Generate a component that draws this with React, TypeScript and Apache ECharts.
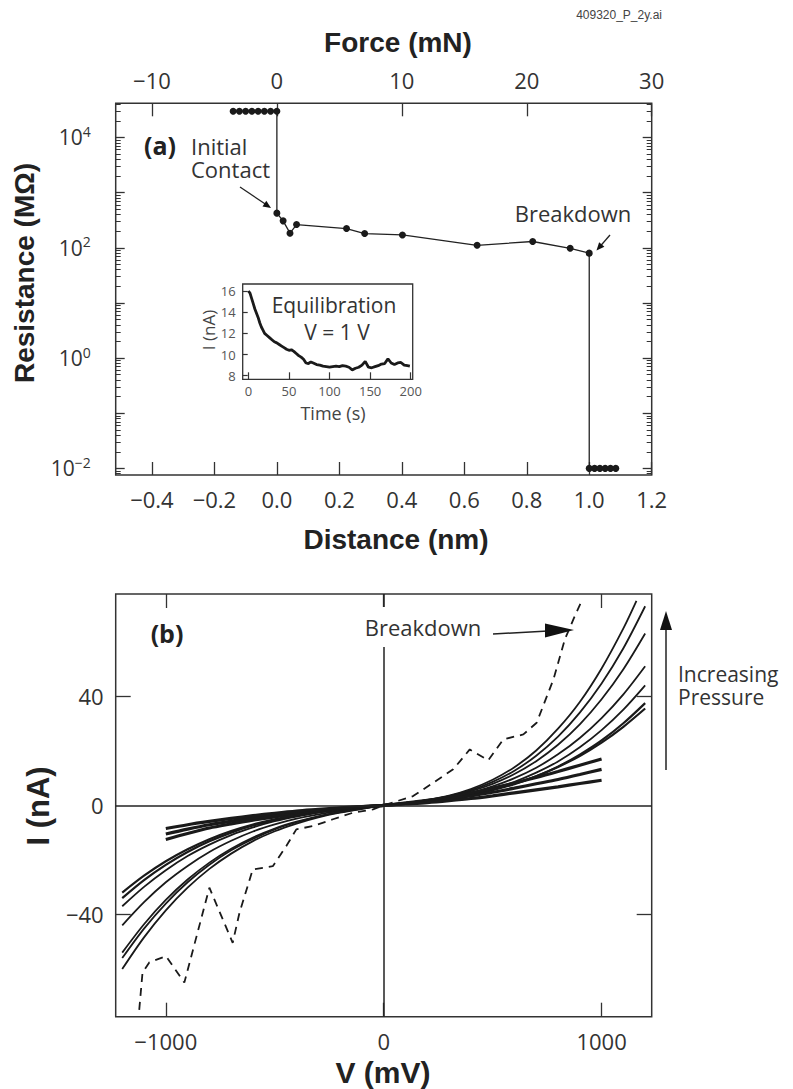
import React, { useEffect, useRef } from "react";
import * as echarts from "echarts";

// ---------- Panel (a): resistance vs distance ----------
const distanceNm = [
  -0.14, -0.12, -0.1, -0.08, -0.06, -0.04, -0.02, 0.0,
  0.0, 0.02, 0.042, 0.063, 0.223, 0.281, 0.402, 0.641, 0.819, 0.939, 1.0,
  1.0, 1.017, 1.034, 1.051, 1.068, 1.085,
];
const resistanceMOhm = [
  30000, 30000, 30000, 30000, 30000, 30000, 30000, 30000,
  425, 308, 184, 264, 223, 181, 171, 111, 130, 98, 80,
  0.01, 0.01, 0.01, 0.01, 0.01, 0.01,
];
const distanceTicks = [-0.4, -0.2, 0, 0.2, 0.4, 0.6, 0.8, 1.0, 1.2];
const forceTicks = [-10, 0, 10, 20, 30];
const decadeTicks = [-2, -1, 0, 1, 2, 3, 4];
const decadeLabels = [-2, 0, 2, 4];

// ---------- Inset: equilibration ----------
const timeS = [
  0, 2, 4, 6, 8, 10, 12, 14, 16, 18, 20, 23, 26, 29, 32, 35, 38, 41, 44, 47, 50,
  53, 56, 59, 62, 65, 68, 71, 74, 77, 80, 84, 88, 92, 96, 100, 104, 108, 112, 116,
  120, 124, 128, 132, 136, 140, 144, 148, 152, 156, 160, 164, 168, 172, 176, 180,
  184, 188, 192, 196, 199,
];
const currentNA = [
  16.0, 15.8, 15.3, 14.8, 14.3, 13.9, 13.5, 13.0, 12.6, 12.3, 12.0,
  11.8, 11.6, 11.4, 11.2, 11.1, 10.95, 10.8, 10.65, 10.5, 10.4,
  10.45, 10.3, 10.1, 9.9, 9.75, 9.55, 9.2, 9.15, 9.3, 9.2,
  9.05, 9.0, 8.9, 8.85, 8.8,
  8.85, 8.9, 8.85, 8.95, 8.9,
  8.8, 8.55, 8.7, 8.8, 9.0,
  9.35, 8.8, 8.75, 8.85, 8.95,
  9.1, 9.15, 9.6, 9.2, 9.05,
  9.2, 9.25, 9.0, 8.95, 8.9,
];
const insetTimeTicks = [0, 50, 100, 150, 200];
const insetCurrentTicks = [8, 10, 12, 14, 16];

// ---------- Panel (b): I-V curves ----------
const vLong = [
  -1200, -1100, -1000, -900, -800, -700, -600, -500, -400, -300, -200, -100, 0,
  100, 200, 300, 400, 500, 600, 700, 800, 900, 1000, 1100, 1200,
];
const vTop = [
  -1200, -1100, -1000, -900, -800, -700, -600, -500, -400, -300, -200, -100, 0,
  100, 200, 300, 400, 500, 600, 700, 800, 900, 1000, 1100, 1160,
];
const vShort = [
  -1000, -900, -800, -700, -600, -500, -400, -300, -200, -100, 0,
  100, 200, 300, 400, 500, 600, 700, 800, 900, 1000,
];
const iCurve1 = [-60, -48.4, -38.5, -30.2, -23.3, -17.7, -13.1, -9.5, -6.7, -4.4, -2.7, -1.3, 0, 0.87, 2.0, 3.6, 6.0, 9.4, 14.0, 20.1, 28.1, 37.9, 50.2, 64.9, 75];
const iCurve2 = [-56, -45.2, -36, -28.2, -21.8, -16.5, -12.3, -8.8, -6.2, -4.1, -2.5, -1.2, 0, 0.84, 1.9, 3.4, 5.55, 8.6, 12.7, 18.2, 25.2, 34, 44.7, 57.6, 73];
const iCurve3 = [-54, -43.6, -34.7, -27.2, -21, -15.9, -11.8, -8.5, -6.0, -4.0, -2.4, -1.1, 0, 0.83, 1.85, 3.2, 5.2, 7.9, 11.5, 16.2, 22.2, 29.7, 38.9, 49.9, 63];
const iCurve4 = [-44, -35.5, -28.2, -22.2, -17.1, -13.0, -9.6, -7.0, -4.9, -3.3, -2.0, -0.9, 0, 0.82, 1.8, 3.05, 4.7, 7.0, 10.0, 13.8, 18.7, 24.7, 32, 40.7, 51];
const iCurve5 = [-37, -29.9, -23.8, -18.6, -14.4, -10.9, -8.1, -5.8, -4.1, -2.7, -1.7, -0.8, 0, 0.72, 1.56, 2.66, 4.1, 6.1, 8.65, 12.0, 16.1, 21.3, 27.6, 35.1, 44];
const iCurve6 = [-34, -27.4, -21.8, -17.1, -13.2, -10.0, -7.4, -5.4, -3.8, -2.5, -1.5, -0.7, 0, 0.72, 1.53, 2.55, 3.9, 5.6, 7.8, 10.7, 14.2, 18.6, 23.8, 30.1, 37.5];
const iCurve7 = [-32, -25.8, -20.5, -16.1, -12.4, -9.4, -7.0, -5.1, -3.6, -2.4, -1.4, -0.7, 0, 0.82, 1.72, 2.8, 4.16, 5.9, 8.0, 10.7, 14.1, 18.1, 23, 28.8, 35.5];
const iShort1 = [-12.5, -10.3, -8.3, -6.8, -5.4, -4.2, -3.1, -2.1, -1.3, -0.6, 0, 0.85, 1.8, 3.0, 4.5, 6.3, 8.2, 10.2, 12.4, 14.7, 17.0];
const iShort2 = [-10.5, -8.7, -7.1, -5.8, -4.6, -3.5, -2.6, -1.8, -1.1, -0.5, 0, 0.7, 1.4, 2.3, 3.5, 4.8, 6.3, 7.9, 9.5, 11.3, 13.2];
const iShort3 = [-8.5, -7.1, -5.9, -4.8, -3.8, -2.9, -2.1, -1.5, -0.9, -0.45, 0, 0.5, 1.0, 1.7, 2.5, 3.5, 4.6, 5.7, 6.8, 8.0, 9.2];
const breakdownV = [-1122, -1107, -1076, -999, -915, -800, -693, -662, -601, -509, -447, -401, -325, -233, -141, -49, 0, 135, 227, 319, 395, 480, 549, 641, 702, 779, 832, 871, 909];
const breakdownI = [-75, -61.4, -57.6, -55.3, -65, -30.2, -50.4, -39.4, -23.5, -22.3, -14.9, -8.8, -7.6, -5.1, -2.7, -1.5, 0, 3.4, 8.3, 13.2, 20.5, 16.5, 24.2, 26, 30.3, 46.2, 61, 68.3, 75];
const vTicks = [-1000, 0, 1000];
const iTicks = [-40, 0, 40];

const LABEL_FONT = "'Open Sans', 'DejaVu Sans', sans-serif";
const TITLE_FONT = "'Liberation Sans', Arial, sans-serif";
const INK = "#1a1a1a";
const AXIS = "#333";
const TEXT = "#333";

const minus = (v: number, digits?: number) => {
  const s = digits !== undefined ? Math.abs(v).toFixed(digits) : String(Math.abs(v));
  return (v < 0 ? "\u2212" : "") + s;
};

const zip = (xs: number[], ys: number[]) => xs.map((x, i) => [x, ys[i]]);

function buildOption() {
  const logMin = -2.12;
  const logMax = 4.62;
  const minorLog: number[] = [];
  for (let n = -3; n <= 4; n++) {
    for (let m = 2; m <= 9; m++) {
      const v = n + Math.log10(m);
      if (v > logMin && v < logMax) minorLog.push(v);
    }
  }

  const tickStyle = { color: AXIS, width: 1.3 };
  const noLine = { show: false, onZero: false };
  const labelBase = { fontFamily: LABEL_FONT, color: TEXT };

  const xAxes: any[] = [
    {
      type: "value", gridIndex: 0, position: "bottom", min: -0.516, max: 1.2,
      axisLine: noLine, splitLine: { show: false },
      axisTick: { show: true, inside: true, length: 13, customValues: distanceTicks, lineStyle: tickStyle },
      axisLabel: { ...labelBase, fontSize: 22, margin: 13, customValues: distanceTicks, formatter: (v: number) => minus(v, 1) },
    },
    {
      type: "value", gridIndex: 0, position: "top", min: -12.9, max: 30,
      axisLine: noLine, splitLine: { show: false },
      axisTick: { show: true, inside: true, length: 13, customValues: forceTicks, lineStyle: tickStyle },
      axisLabel: { ...labelBase, fontSize: 22, margin: 12, customValues: forceTicks, formatter: (v: number) => minus(v) },
    },
    {
      type: "value", gridIndex: 1, position: "bottom", min: -1230, max: 1230,
      axisLine: noLine, splitLine: { show: false },
      axisTick: { show: true, inside: true, length: 14, customValues: vTicks, lineStyle: tickStyle },
      axisLabel: { ...labelBase, fontSize: 22, margin: 13, customValues: vTicks, formatter: (v: number) => minus(v) },
    },
    {
      type: "value", gridIndex: 1, position: "top", min: -1230, max: 1230,
      axisLine: noLine, splitLine: { show: false },
      axisTick: { show: true, inside: true, length: 14, customValues: vTicks, lineStyle: tickStyle },
      axisLabel: { show: false },
    },
    {
      type: "value", gridIndex: 2, position: "bottom", min: -7, max: 202.5,
      axisLine: noLine, splitLine: { show: false },
      axisTick: { show: true, inside: true, length: 7, customValues: insetTimeTicks, lineStyle: { color: AXIS, width: 1.2 } },
      axisLabel: { ...labelBase, color: "#555", fontSize: 13, margin: 5, customValues: insetTimeTicks },
    },
  ];

  const yAxes: any[] = [
    {
      type: "value", gridIndex: 0, position: "left", min: logMin, max: logMax,
      axisLine: noLine, splitLine: { show: false },
      axisTick: { show: true, inside: true, length: 9, customValues: decadeTicks, lineStyle: tickStyle },
      axisLabel: {
        ...labelBase, margin: 25, customValues: decadeLabels,
        formatter: (v: number) => `{b|10}{s|${minus(v)}}`,
        rich: {
          b: { fontFamily: LABEL_FONT, fontSize: 21, color: TEXT, lineHeight: 26 },
          s: { fontFamily: LABEL_FONT, fontSize: 14, color: TEXT, lineHeight: 14, verticalAlign: "top" },
        },
      },
    },
    {
      type: "value", gridIndex: 0, position: "left", min: logMin, max: logMax,
      axisLine: noLine, splitLine: { show: false },
      axisTick: { show: true, inside: true, length: 5, customValues: minorLog, lineStyle: { color: AXIS, width: 1 } },
      axisLabel: { show: false },
    },
    {
      type: "value", gridIndex: 0, position: "right", min: logMin, max: logMax,
      axisLine: noLine, splitLine: { show: false },
      axisTick: { show: true, inside: true, length: 9, customValues: decadeTicks, lineStyle: tickStyle },
      axisLabel: { show: false },
    },
    {
      type: "value", gridIndex: 0, position: "right", min: logMin, max: logMax,
      axisLine: noLine, splitLine: { show: false },
      axisTick: { show: true, inside: true, length: 5, customValues: minorLog, lineStyle: { color: AXIS, width: 1 } },
      axisLabel: { show: false },
    },
    {
      type: "value", gridIndex: 1, position: "left", min: -77.5, max: 77.5,
      axisLine: noLine, splitLine: { show: false },
      axisTick: { show: true, inside: true, length: 15, customValues: [-40, 40], lineStyle: tickStyle },
      axisLabel: { ...labelBase, fontSize: 22, margin: 12, customValues: iTicks, formatter: (v: number) => minus(v) },
    },
    {
      type: "value", gridIndex: 1, position: "right", min: -77.5, max: 77.5,
      axisLine: noLine, splitLine: { show: false },
      axisTick: { show: true, inside: true, length: 15, customValues: [-40, 40], lineStyle: tickStyle },
      axisLabel: { show: false },
    },
    {
      type: "value", gridIndex: 2, position: "left", min: 7.66, max: 16.66,
      axisLine: noLine, splitLine: { show: false },
      axisTick: { show: true, inside: true, length: 5, customValues: insetCurrentTicks, lineStyle: { color: AXIS, width: 1.2 } },
      axisLabel: { ...labelBase, color: "#555", fontSize: 13, margin: 7, customValues: insetCurrentTicks },
    },
  ];

  const ivLine = (name: string, xs: number[], ys: number[], width: number, extra: any = {}) => ({
    type: "line", name, xAxisIndex: 2, yAxisIndex: 4, data: zip(xs, ys),
    smooth: 0.3, showSymbol: false, symbol: "none", z: 3,
    lineStyle: { color: INK, width },
    ...extra,
  });

  const series: any[] = [
    {
      type: "line", name: "Resistance", xAxisIndex: 0, yAxisIndex: 0,
      data: distanceNm.map((d, i) => [d, Math.log10(resistanceMOhm[i])]),
      symbol: "circle", symbolSize: 7, showSymbol: true, z: 3,
      itemStyle: { color: INK },
      lineStyle: { color: "#222", width: 1.3 },
    },
    {
      type: "line", name: "Equilibration", xAxisIndex: 4, yAxisIndex: 6,
      data: zip(timeS, currentNA), showSymbol: false, symbol: "none", z: 3,
      lineStyle: { color: INK, width: 2.8 },
    },
    ivLine("c1", vTop, iCurve1, 1.8, {
      markLine: {
        silent: true, symbol: ["none", "none"], label: { show: false },
        lineStyle: { type: "solid", color: "#222", width: 1.5 },
        data: [{ xAxis: 0 }, { yAxis: 0 }],
      },
    }),
    ivLine("c2", vLong, iCurve2, 1.8),
    ivLine("c3", vLong, iCurve3, 1.8),
    ivLine("c4", vLong, iCurve4, 1.8),
    ivLine("c5", vLong, iCurve5, 1.8),
    ivLine("c6", vLong, iCurve6, 2.2),
    ivLine("c7", vLong, iCurve7, 2.2),
    ivLine("s1", vShort, iShort1, 3.2),
    ivLine("s2", vShort, iShort2, 3.2),
    ivLine("s3", vShort, iShort3, 3.2),
    {
      type: "line", name: "Breakdown", xAxisIndex: 2, yAxisIndex: 4,
      data: zip(breakdownV, breakdownI), showSymbol: false, symbol: "none", z: 3,
      lineStyle: { color: INK, width: 1.8, type: [8, 6] },
    },
  ];

  const txt = (text: string, x: number, y: number, opts: any = {}) => ({
    type: "text", x, y, z: 100, rotation: opts.rotation || 0,
    style: {
      text,
      fill: opts.fill || TEXT,
      fontSize: opts.fontSize || 20,
      fontWeight: opts.fontWeight || "normal",
      fontFamily: opts.fontFamily || LABEL_FONT,
      align: opts.align || "center",
      verticalAlign: "middle",
      lineHeight: opts.lineHeight,
      backgroundColor: opts.backgroundColor,
      padding: opts.padding,
    },
  });
  const seg = (x1: number, y1: number, x2: number, y2: number, w = 1.3) => ({
    type: "line", z: 100, shape: { x1, y1, x2, y2 }, style: { stroke: "#222", lineWidth: w },
  });
  const head = (pts: number[][]) => ({
    type: "polygon", z: 100, shape: { points: pts }, style: { fill: "#111" },
  });
  const title = { fontWeight: "bold", fontFamily: TITLE_FONT, fill: "#222" };

  const graphic: any[] = [
    txt("409320_P_2y.ai", 662, 15, { fontSize: 12, align: "right", fontFamily: TITLE_FONT, fill: "#444" }),
    txt("Force (mN)", 398, 42, { ...title, fontSize: 28 }),
    txt("Distance (nm)", 396, 539, { ...title, fontSize: 28 }),
    txt("Resistance (M\u03A9)", 24, 273, { ...title, fontSize: 28, rotation: Math.PI / 2 }),
    txt("(a)", 160, 145, { fontSize: 25, fontWeight: "bold", fill: "#222" }),
    txt("Initial", 191, 146, { fontSize: 22, align: "left" }),
    txt("Contact", 191, 169, { fontSize: 22, align: "left" }),
    seg(240, 187, 266, 204.5),
    head([[271, 208], [262.5, 206.5], [266.3, 200.7]]),
    txt("Breakdown", 573, 213, { fontSize: 22 }),
    seg(610, 235, 600, 246.5),
    head([[596.5, 250.5], [604.4, 246.8], [599.1, 242.2]]),
    // inset texts
    txt("Equilibration", 334, 305, { fontSize: 21 }),
    txt("V = 1 V", 337, 332, { fontSize: 21 }),
    txt("I (nA)", 208, 330, { fontSize: 17, rotation: Math.PI / 2, fill: "#444" }),
    txt("Time (s)", 333, 413, { fontSize: 18, fill: "#444" }),
    // panel b texts
    txt("(b)", 167, 633, { fontSize: 25, fontWeight: "bold", fill: "#222" }),
    txt("Breakdown", 423, 627, { fontSize: 22, backgroundColor: "#fff", padding: [6, 4, 12, 4] }),
    seg(493, 634, 548, 631, 1.5),
    head([[574, 630], [545, 623.5], [545, 637.5]]),
    txt("Increasing", 678, 674, { fontSize: 21, align: "left" }),
    txt("Pressure", 678, 697, { fontSize: 21, align: "left" }),
    seg(666, 770, 666, 626, 1.5),
    head([[666, 611], [660, 630], [672, 630]]),
    txt("I (nA)", 38, 806, { ...title, fontSize: 31, rotation: Math.PI / 2 }),
    txt("V (mV)", 383, 1072, { ...title, fontSize: 30 }),
  ];

  const gridStyle = { show: true, borderColor: AXIS, borderWidth: 1.5, backgroundColor: "transparent", containLabel: false };
  return {
    animation: false,
    backgroundColor: "#fff",
    grid: [
      { ...gridStyle, left: 115.7, top: 103.3, width: 536, height: 371.7 },
      { ...gridStyle, left: 115.7, top: 594, width: 536, height: 422.7 },
      { ...gridStyle, left: 242.7, top: 284, width: 170, height: 95.3, borderWidth: 1.3, backgroundColor: "#fff" },
    ],
    xAxis: xAxes,
    yAxis: yAxes,
    series,
    graphic,
  };
}

export default function App() {
  const ref = useRef<HTMLDivElement>(null);
  useEffect(() => {
    if (!ref.current) return;
    const chart = echarts.init(ref.current, undefined, { renderer: "svg" });
    chart.setOption(buildOption() as any);
    return () => chart.dispose();
  }, []);
  return (
    <div
      ref={ref}
      style={{ position: "absolute", left: 0, top: 0, width: 793, height: 1089, background: "#fff" }}
    />
  );
}
